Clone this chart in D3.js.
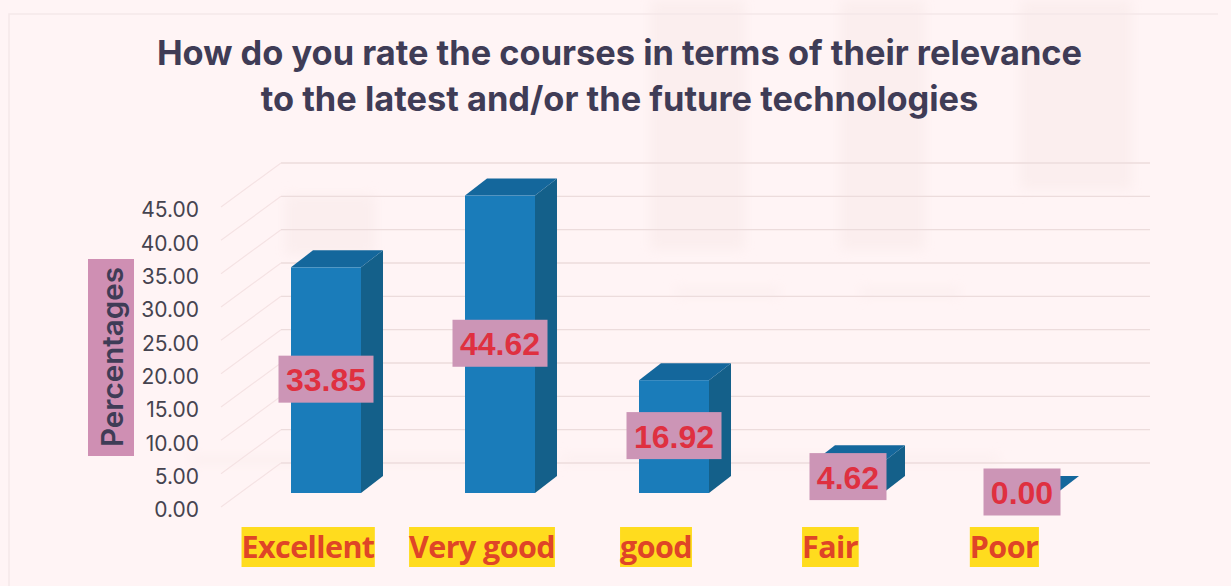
<!DOCTYPE html>
<html><head><meta charset="utf-8">
<script src="https://cdn.jsdelivr.net/npm/d3@7/dist/d3.min.js"></script>
<style>html,body{margin:0;padding:0;background:#fff4f5;overflow:hidden}svg{display:block}</style>
</head><body><svg id="c" width="1231" height="586"></svg>
<script>
const categories = ["Excellent","Very good","good","Fair","Poor"];
const values = [33.85,44.62,16.92,4.62,0.00];
const yTicks = [0,5,10,15,20,25,30,35,40,45];
const titleLines = ["How do you rate the courses in terms of their relevance","to the latest and/or the future technologies"];
const yTitle = "Percentages";
const ghostBlocks = [[285,195,90,60],[650,0,95,250],[840,0,85,250],[1020,0,112,190],[675,288,105,8],[860,288,100,8],[190,456,330,8],[560,456,440,7]];

const W=1231,H=586, depthX=22, depthY=17, wallY=30;
const svg=d3.select("#c");
const y=d3.scaleLinear().domain([0,45]).range([493,193]);
const x=d3.scaleBand().domain(categories).range([291,1057]).paddingInner(0.5977).paddingOuter(0);
const ink="#3f3c56";

svg.append("rect").attr("width",W).attr("height",H).attr("fill","#fff4f5");
const defs=svg.append("defs");
defs.append("filter").attr("id","blur").append("feGaussianBlur").attr("stdDeviation",6);
defs.append("filter").attr("id","soft").append("feGaussianBlur").attr("stdDeviation",0.5);
// show-through from the scanned page
svg.append("g").attr("filter","url(#blur)").selectAll("rect").data(ghostBlocks).join("rect")
  .attr("x",d=>d[0]).attr("y",d=>d[1]).attr("width",d=>d[2]).attr("height",d=>d[3]).attr("fill","#fbeeee");
svg.append("path").attr("d","M9 586V14H1218").attr("fill","none").attr("stroke","#f5e8e9").attr("stroke-width",1.5);

// title
svg.append("g").selectAll("text").data(titleLines).join("text")
  .attr("x",619.5).attr("y",(d,i)=>65+i*46).attr("text-anchor","middle")
  .attr("font-family","Inter").attr("font-weight",700).attr("font-size",34.4)
  .attr("fill",ink).text(d=>d);

// walls
const grid=svg.append("g").attr("filter","url(#soft)");
grid.selectAll("line.h").data(yTicks).join("line").attr("class","h")
  .attr("x1",281).attr("x2",1150).attr("y1",d=>y(d)-wallY).attr("y2",d=>y(d)-wallY)
  .attr("stroke","#ecdcdc").attr("stroke-width",1.4);
grid.selectAll("line.d").data(yTicks).join("line").attr("class","d")
  .attr("x1",221).attr("x2",281).attr("y1",d=>y(d)+14).attr("y2",d=>y(d)-wallY)
  .attr("stroke","#f5e3e4").attr("stroke-width",1.2);

// y axis
const axis=svg.append("g").attr("transform","translate(199,17)")
  .call(d3.axisLeft(y).tickValues(yTicks).tickSize(0).tickPadding(0).tickFormat(d3.format(".2f")));
axis.select(".domain").remove();
axis.selectAll("text").attr("font-family","Inter").attr("font-size",21).attr("fill","#45434f");

// y title
svg.append("rect").attr("x",88).attr("y",259).attr("width",46).attr("height",197).attr("fill","#cf8fb3");
svg.append("text").attr("transform","translate(123,357) rotate(-90)").attr("text-anchor","middle")
  .attr("font-family","Inter").attr("font-weight",600).attr("font-size",29.6).attr("fill",ink).text(yTitle);

// bars
const bars=svg.append("g").selectAll("g").data(categories.map((c,i)=>({c,v:values[i]}))).join("g");
const bw=x.bandwidth();
bars.append("path").attr("fill","#14608a").attr("d",d=>{const l=x(d.c)+bw,t=y(d.v),b=y(0);
  return `M${l} ${t}L${l+depthX} ${t-depthY}V${b-depthY}L${l} ${b}Z`;});
bars.append("path").attr("fill","#14679c").attr("d",d=>{const l=x(d.c),t=y(d.v);
  return `M${l} ${t}L${l+depthX} ${t-depthY}H${l+bw+depthX}L${l+bw} ${t}Z`;});
bars.append("rect").attr("x",d=>x(d.c)).attr("y",d=>y(d.v)).attr("width",bw)
  .attr("height",d=>y(0)-y(d.v)).attr("fill","#1a7cba");

// data labels
const labels=svg.append("g").selectAll("g").data(categories.map((c,i)=>({c,v:values[i]}))).join("g")
  .attr("transform",d=>`translate(${x(d.c)+bw/2},${(y(d.v)+y(0))/2-1})`);
labels.append("rect").attr("x",d=>d.v>=10?-47.5:-38.5).attr("width",d=>d.v>=10?95:77)
  .attr("y",-23.5).attr("height",47).attr("fill","#cc95b6");
labels.append("text").attr("text-anchor","middle").attr("dy",12)
  .attr("font-family","'Liberation Sans'").attr("font-weight",700).attr("font-size",32)
  .attr("fill","#df3040").text(d=>d3.format(".2f")(d.v));

// category labels
const cats=svg.append("g").selectAll("g").data(categories).join("g")
  .attr("transform",d=>`translate(${x(d)+bw/2-18},547)`);
const catText=cats.append("text").attr("text-anchor","middle").attr("dy",11)
  .attr("font-family","'Open Sans'").attr("font-weight",700).attr("font-size",30.5)
  .attr("letter-spacing",-0.6).attr("fill","#df4527").text(d=>d);
catText.each(function(){const g=d3.select(this.parentNode),b=this.getBBox();
  g.insert("rect","text").attr("x",b.x).attr("width",b.width).attr("y",-20).attr("height",40).attr("fill","#ffdc1e");});
</script></body></html>
